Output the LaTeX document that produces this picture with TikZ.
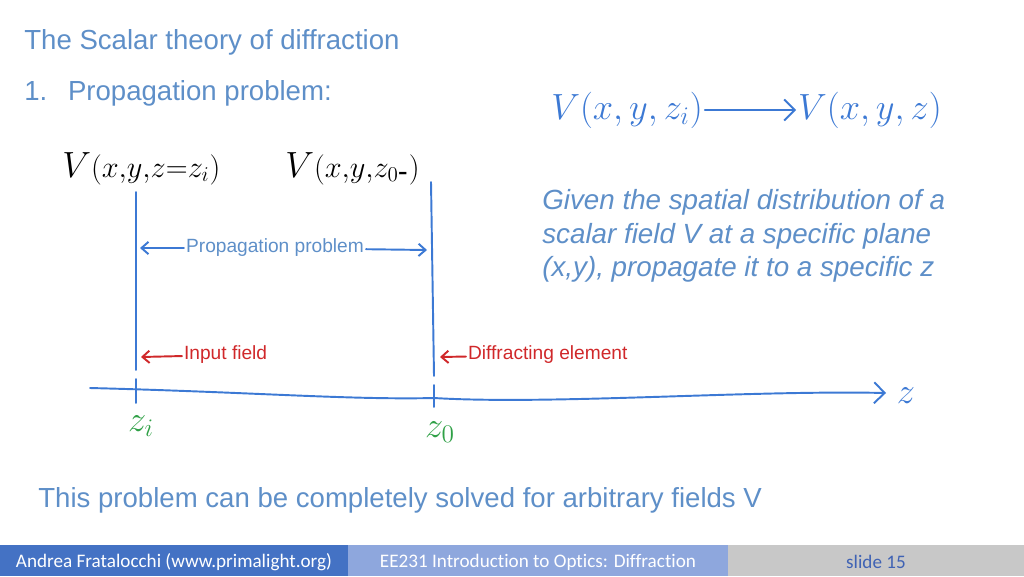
\documentclass[tikz,border=0pt]{standalone}
\usepackage[no-math]{fontspec}
\setmainfont{Liberation Sans}
\newfontfamily\footfont[Ligatures=NoCommon]{Carlito}
\usetikzlibrary{arrows.meta,positioning}
\definecolor{titleblue}{HTML}{5E8FC8}
\definecolor{penblue}{HTML}{3C79D4}
\definecolor{penred}{HTML}{D0282A}
\definecolor{pengreen}{HTML}{2FA046}
\definecolor{barblue}{HTML}{4472C4}
\definecolor{barlight}{HTML}{8EA7DD}
\definecolor{bargrey}{HTML}{C8C8C8}
\definecolor{slideblue}{HTML}{3F62B4}
\begin{document}
\begin{tikzpicture}[x=0.02cm,y=-0.02cm,
    slide/.style={font=\fontsize{15.7}{19}\selectfont,text=titleblue,inner sep=0pt,anchor=base west},
    given/.style={slide,font=\fontsize{15.8}{19}\selectfont\itshape},
    note/.style={font=\fontsize{10.9}{13}\selectfont,inner sep=1pt},
    hand/.style={font=\fontsize{20}{22}\selectfont,text=penblue,inner sep=1pt},
    zmark/.style={font=\fontsize{20}{22}\selectfont,text=pengreen,inner sep=0pt},
    pen/.style={penblue,line width=1.1pt,line cap=round},
    barb/.style={-{Straight Barb[length=4pt,width=7pt]}},
    bigbarb/.style={-{Straight Barb[length=6pt,width=12pt]}},
    foot/.style={font=\footfont\fontsize{10.9}{12}\selectfont,inner sep=0pt}]
    \useasboundingbox (0,0) rectangle (1024,576);
    \node[slide] (title) at (24,49) {The Scalar theory of diffraction};
    \node[slide] (sub) at (24,100) {1.\hspace{0.75em}Propagation problem:};
    \node[hand] (vfrom) at (627,110) {$V(x,y,z_i)$};
    \node[hand] (vto) at (870,110) {$V(x,y,z)$};
    \draw[pen,bigbarb] (vfrom) -- (vto);
    \node[anchor=base west,inner sep=0pt] (vin) at (62,177)
        {{\fontsize{22}{24}\selectfont$V$}{\fontsize{17}{19}\selectfont$(x{,}y{,}z{=}z_i)$}};
    \node[anchor=base west,inner sep=0pt] (vout) at (285,177)
        {{\fontsize{22}{24}\selectfont$V$}{\fontsize{17}{19}\selectfont$(x{,}y{,}z_{0\mbox{-}})$}};
    \foreach \t [count=\i] in {Given the spatial distribution of a,
        scalar field V at a specific plane, {(x,y), propagate it to a specific z}}
        \node[given] (given\i) at (542,176+33.5*\i) {\t};
    \coordinate (zi-top) at (136,192);
    \coordinate (zi-bot) at (136,370);
    \coordinate (zo-top) at (431,182);
    \coordinate (zo-bot) at (434,376);
    \draw[pen] (zi-top) -- (zi-bot);
    \draw[pen] (zo-top) -- (zo-bot);
    \node[note,text=titleblue] (prop) at (275,248) {Propagation problem};
    \coordinate (prop-l) at (140,248);
    \coordinate (prop-r) at (427,250);
    \draw[pen,barb] (prop) -- (prop-l);
    \draw[pen,barb] (prop) -- (prop-r);
    \node[note,text=penred,anchor=west] (input) at (182,355) {Input field};
    \node[note,text=penred,anchor=west] (diffr) at (466,355) {Diffracting element};
    \coordinate (input-tip) at (141,357);
    \coordinate (diffr-tip) at (440,357);
    \draw[pen,penred,barb] (input) -- (input-tip);
    \draw[pen,penred,barb] (diffr) -- (diffr-tip);
    \coordinate (ax-start) at (90,388);
    \coordinate (ax-end) at (886,393);
    \draw[pen,bigbarb] (ax-start) .. controls (250,392) and (350,400) .. (434,398)
        .. controls (550,405) and (750,390) .. (ax-end);
    \foreach \x/\a/\b in {136/379/403,434/385/407}
        \draw[pen] (\x,\a) -- (\x,\b);
    \node[zmark] (zi) at (141,426) {$z_i$};
    \node[zmark] (zo) at (440,432) {$z_0$};
    \node[hand,inner sep=0pt] (zlab) at (906,396) {$z$};
    \node[slide] (solved) at (38,507) {This problem can be completely solved for arbitrary fields V};
    \fill[barblue] (0,545) rectangle (348,576);
    \fill[barlight] (348,545) rectangle (728,576);
    \fill[bargrey] (728,545) rectangle (1024,576);
    \node[foot,text=white] (author) at (174,562) {Andrea Fratalocchi (www.primalight.org)};
    \node[foot,text=white] (course) at (538,562) {EE231 Introduction to Optics: Diffraction};
    \node[foot,text=slideblue] (page) at (876,562) {slide 15};
\end{tikzpicture}
\end{document}
